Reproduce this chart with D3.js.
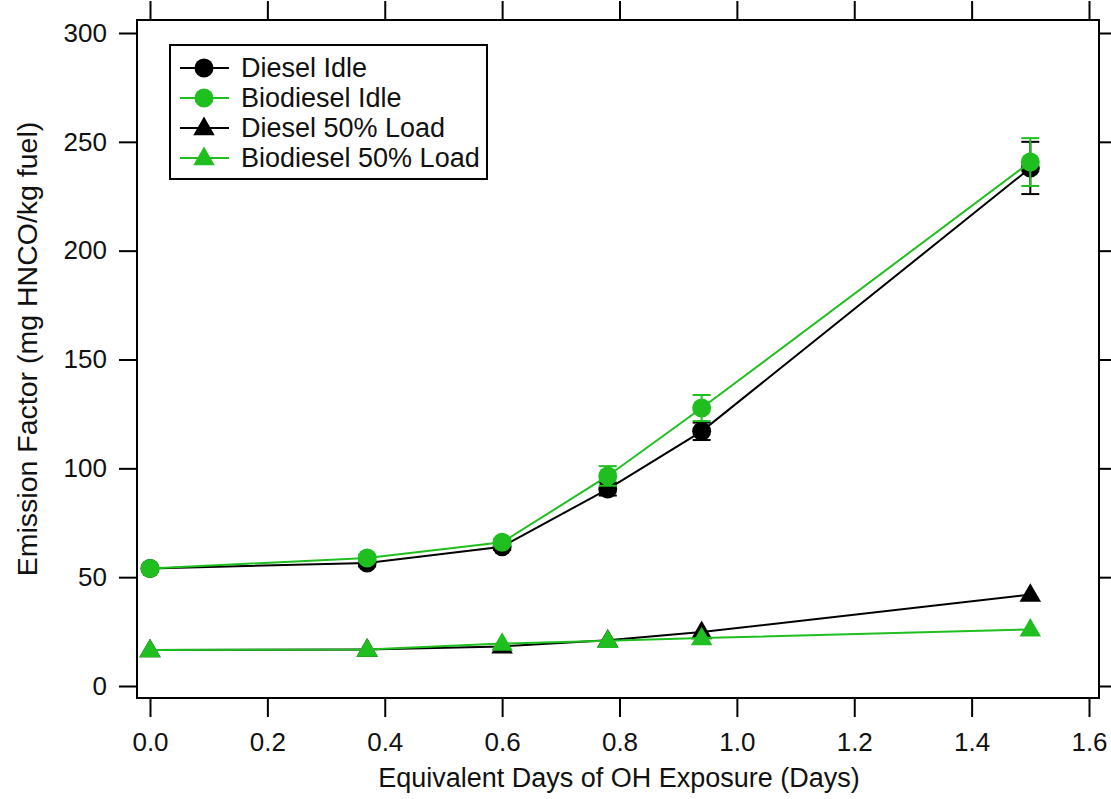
<!DOCTYPE html>
<html>
<head>
<meta charset="utf-8">
<script src="https://cdn.jsdelivr.net/npm/d3@7"></script>
<style>
  body { margin: 0; background: #fff; }
  text { font-family: "Liberation Sans", Arial, sans-serif; fill: #111; }
</style>
</head>
<body>
<div id="chart"></div>
<script>
const days = [0, 0.37, 0.6, 0.78, 0.94, 1.5];
const dieselIdle = [54, 56.5, 64, 90.5, 117, 238];
const dieselIdleErr = [1, 1.5, 1.5, 3, 4, 12];
const bioIdle = [54, 58.8, 66, 96.5, 127.7, 240.7];
const bioIdleErr = [1, 1.5, 1.5, 4.5, 6, 11];
const dieselLoad = [16.5, 16.8, 18.2, 21, 24.8, 42];
const bioLoad = [16.5, 16.8, 19.5, 20.8, 22, 26];
const xTicks = [0, 0.2, 0.4, 0.6, 0.8, 1.0, 1.2, 1.4, 1.6];
const yTicks = [0, 50, 100, 150, 200, 250, 300];

const black = "#000", green = "#1fbf1f";
const series = [
  { name: "Diesel Idle", values: dieselIdle, err: dieselIdleErr, color: black, shape: "circle" },
  { name: "Biodiesel Idle", values: bioIdle, err: bioIdleErr, color: green, shape: "circle" },
  { name: "Diesel 50% Load", values: dieselLoad, err: null, color: black, shape: "triangle" },
  { name: "Biodiesel 50% Load", values: bioLoad, err: null, color: green, shape: "triangle" }
];

const W = 1111, H = 799;
const frame = { left: 137, right: 1099, top: 20, bottom: 698 };

const svg = d3.select("#chart").append("svg").attr("width", W).attr("height", H);

const x = d3.scaleLinear().domain([0, 1.6]).range([150, 1089]);
const y = d3.scaleLinear().domain([0, 300]).range([686, 33]);

// frame
svg.append("rect")
  .attr("x", frame.left).attr("y", frame.top)
  .attr("width", frame.right - frame.left).attr("height", frame.bottom - frame.top)
  .attr("fill", "none").attr("stroke", "#000").attr("stroke-width", 2);

// axes, ticks point outwards on all four sides
const bottomAxis = svg.append("g").attr("transform", `translate(0,${frame.bottom})`)
  .call(d3.axisBottom(x).tickValues(xTicks).tickFormat(d3.format(".1f")).tickSize(19).tickPadding(16));
const topAxis = svg.append("g").attr("transform", `translate(0,${frame.top})`)
  .call(d3.axisTop(x).tickValues(xTicks).tickFormat("").tickSize(19));
const leftAxis = svg.append("g").attr("transform", `translate(${frame.left},0)`)
  .call(d3.axisLeft(y).tickValues(yTicks).tickSize(18).tickPadding(12));
const rightAxis = svg.append("g").attr("transform", `translate(${frame.right},0)`)
  .call(d3.axisRight(y).tickValues(yTicks).tickFormat("").tickSize(18));

[bottomAxis, topAxis, leftAxis, rightAxis].forEach(g => {
  g.select(".domain").remove();
  g.selectAll(".tick line").attr("stroke", "#000").attr("stroke-width", 2);
  g.selectAll(".tick text").style("font-size", "26px").attr("fill", "#111");
});

// axis titles
svg.append("text")
  .attr("x", 619).attr("y", 787)
  .attr("text-anchor", "middle")
  .style("font-size", "27px")
  .text("Equivalent Days of OH Exposure (Days)");

svg.append("text")
  .attr("transform", "rotate(-90)")
  .attr("x", -349).attr("y", 37)
  .attr("text-anchor", "middle")
  .style("font-size", "28.5px")
  .text("Emission Factor (mg HNCO/kg fuel)");

const plot = svg.append("g");
const line = d3.line().x(d => x(d[0])).y(d => y(d[1]));
const tri = d3.symbol().type(d3.symbolTriangle).size(200);

function drawMarker(g, shape, color, cx, cy) {
  if (shape === "circle") {
    g.append("circle").attr("cx", cx).attr("cy", cy).attr("r", 9.5).attr("fill", color);
  } else {
    g.append("path").attr("d", tri).attr("transform", `translate(${cx},${cy + 1})`).attr("fill", color);
  }
}

series.forEach(s => {
  const pts = days.map((d, i) => [d, s.values[i]]);
  plot.append("path").datum(pts)
    .attr("d", line).attr("fill", "none")
    .attr("stroke", s.color).attr("stroke-width", 2);

  if (s.err) {
    pts.forEach((p, i) => {
      const e = s.err[i];
      const px = x(p[0]);
      plot.append("line").attr("x1", px).attr("x2", px)
        .attr("y1", y(p[1] - e)).attr("y2", y(p[1] + e))
        .attr("stroke", s.color).attr("stroke-width", 2);
      [p[1] - e, p[1] + e].forEach(v => {
        plot.append("line").attr("x1", px - 9).attr("x2", px + 9)
          .attr("y1", y(v)).attr("y2", y(v))
          .attr("stroke", s.color).attr("stroke-width", 2);
      });
    });
  }
  pts.forEach(p => drawMarker(plot, s.shape, s.color, x(p[0]), y(p[1])));
});

// legend
const legend = svg.append("g").attr("transform", "translate(170,45)");
legend.append("rect")
  .attr("width", 317).attr("height", 134)
  .attr("fill", "#fff").attr("stroke", "#000").attr("stroke-width", 2);
series.forEach((s, i) => {
  const ly = 23 + i * 30;
  legend.append("line").attr("x1", 10).attr("x2", 59).attr("y1", ly).attr("y2", ly)
    .attr("stroke", s.color).attr("stroke-width", 2);
  drawMarker(legend, s.shape, s.color, 34, ly);
  legend.append("text").attr("x", 71).attr("y", ly + 9)
    .style("font-size", "27px").text(s.name);
});
</script>
</body>
</html>
